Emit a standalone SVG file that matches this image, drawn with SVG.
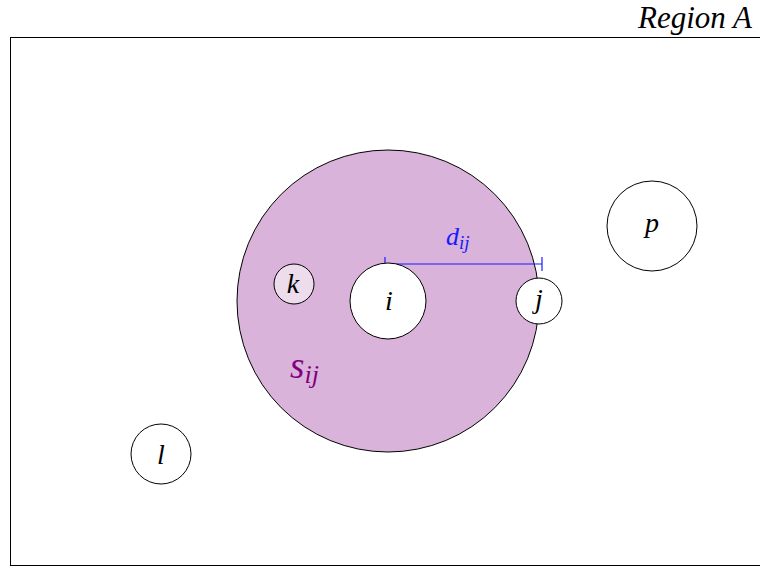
<svg xmlns="http://www.w3.org/2000/svg" width="760" height="567" viewBox="0 0 760 567">
<style>
.t{font-family:"Liberation Serif","DejaVu Serif","Times New Roman",serif;font-style:italic}
.node{fill:#ffffff;stroke:#000;stroke-width:1}
.lbl{font-family:"Liberation Serif","DejaVu Serif","Times New Roman",serif;font-style:italic;font-size:28px;text-anchor:middle;fill:#000}
</style>
<rect x="0" y="0" width="760" height="567" fill="#fff"/>
<g id="region">
<rect x="10.5" y="37.5" width="760" height="528" fill="none" stroke="#000" stroke-width="1"/>
<text class="t" x="752" y="28" font-size="31" text-anchor="end">Region A</text>
</g>
<g id="sij">
<circle cx="388" cy="301" r="151" fill="#d9b3d9" stroke="#000" stroke-width="1"/>
<text class="t" x="290" y="378" font-size="37" fill="#800080">s<tspan font-size="26" dy="5">ij</tspan></text>
</g>
<g id="connectors">
<line x1="385" y1="264" x2="542" y2="264" stroke="#1a1aff" stroke-width="1.2"/>
<line x1="385" y1="257" x2="385" y2="271" stroke="#1a1aff" stroke-width="1.2"/>
<line x1="542" y1="257" x2="542" y2="271" stroke="#1a1aff" stroke-width="1.2"/>
<text class="t" x="446" y="245" font-size="26" fill="#1a1aff">d<tspan font-size="19" dy="4">ij</tspan></text>
</g>
<g id="node-i">
<circle class="node" cx="388" cy="301" r="38"/>
<text class="lbl" x="389" y="310">i</text>
</g>
<g id="node-j">
<circle class="node" cx="539" cy="301" r="23"/>
<text class="lbl" x="539" y="308">j</text>
</g>
<g id="node-k">
<circle class="node" cx="294" cy="284" r="20" style="fill:#ecdcec"/>
<text class="lbl" x="293" y="293">k</text>
</g>
<g id="node-l">
<circle class="node" cx="161" cy="454" r="30"/>
<text class="lbl" x="161" y="464">l</text>
</g>
<g id="node-p">
<circle class="node" cx="652" cy="226" r="45"/>
<text class="lbl" x="652" y="232">p</text>
</g>
</svg>
